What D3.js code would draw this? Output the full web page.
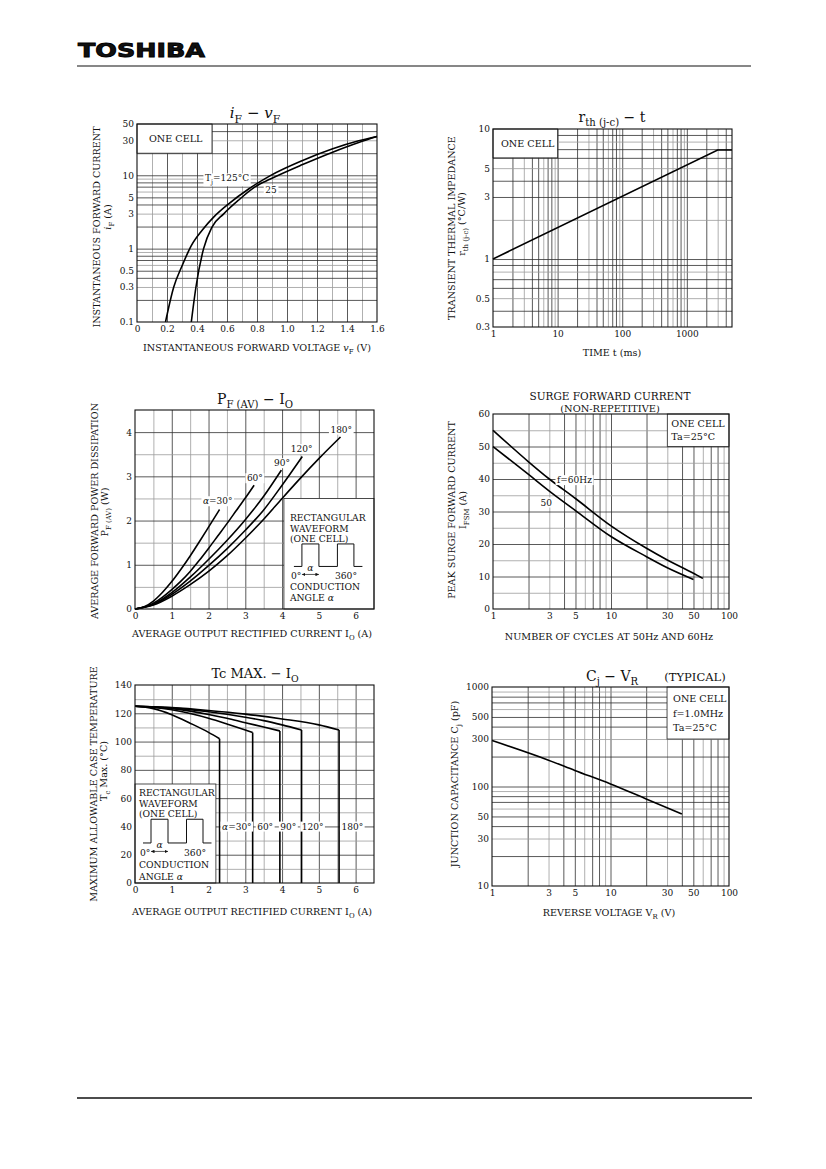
<!DOCTYPE html>
<html>
<head>
<meta charset="utf-8">
<script src="https://cdn.jsdelivr.net/npm/d3@7"></script>
<style>
body { margin: 0; background: #fff; }
text { font-family: "DejaVu Serif", serif; fill: #111; }
.ax text { font-size: 9px; }
</style>
</head>
<body>
<svg id="page"></svg>
<script>
// iF - vF
const vfTicks = [0, 0.2, 0.4, 0.6, 0.8, 1.0, 1.2, 1.4, 1.6];
const ifTicks = [0.1, 0.3, 0.5, 1, 3, 5, 10, 30, 50];
const vf125 = [0.19, 0.245, 0.30, 0.362, 0.433, 0.511, 0.611, 0.744, 0.889, 1.1, 1.3, 1.478, 1.6];
const if125 = [0.1, 0.3, 0.58, 1.1, 1.77, 2.69, 4.08, 6.5, 9.9, 15.8, 22.8, 29.5, 33.8];
const vf25 = [0.362, 0.393, 0.444, 0.5, 0.578, 0.678, 0.789, 0.889, 1.1, 1.3, 1.478, 1.6];
const if25 = [0.1, 0.3, 1.0, 1.97, 2.98, 4.6, 7.0, 8.9, 13.9, 20.5, 28, 33.8];

// rth(j-c) - t
const tTicks = [1, 10, 100, 1000];
const rthTicks = [0.3, 0.5, 1, 3, 5, 10];
const tMs = [1, 3000, 5000];
const rthVals = [1.0, 6.9, 6.9];

// PF(AV) - IO
const ioTicks = [0, 1, 2, 3, 4, 5, 6];
const pfTicks = [0, 1, 2, 3, 4];
const io30 = [0, 0.25, 0.5, 0.75, 1.0, 1.25, 1.5, 1.75, 2.0, 2.3];
const pf30 = [0, 0.05, 0.18, 0.38, 0.62, 0.9, 1.2, 1.52, 1.85, 2.25];
const io60 = [0, 0.25, 0.5, 0.75, 1.0, 1.25, 1.5, 1.75, 2.0, 2.25, 2.5, 2.75, 3.0, 3.24];
const pf60 = [0, 0.04, 0.13, 0.27, 0.44, 0.63, 0.85, 1.1, 1.37, 1.65, 1.93, 2.22, 2.51, 2.8];
const io90 = [0, 0.5, 1.0, 1.5, 2.0, 2.5, 3.0, 3.5, 3.98];
const pf90 = [0, 0.11, 0.37, 0.72, 1.12, 1.55, 2.02, 2.55, 3.14];
const io120 = [0, 0.5, 1.0, 1.5, 2.0, 2.5, 3.0, 3.5, 4.0, 4.55];
const pf120 = [0, 0.1, 0.33, 0.63, 0.98, 1.36, 1.78, 2.24, 2.8, 3.45];
const io180 = [0, 0.5, 1.0, 1.5, 2.0, 2.5, 3.0, 3.5, 4.0, 4.5, 5.0, 5.59];
const pf180 = [0, 0.09, 0.29, 0.55, 0.85, 1.2, 1.6, 2.03, 2.5, 2.96, 3.4, 3.89];

// surge forward current
const cycTicks = [1, 3, 5, 10, 30, 50, 100];
const ifsmTicks = [0, 10, 20, 30, 40, 50, 60];
const cyc60 = [1, 2, 3, 5, 10, 20, 30, 50, 60];
const ifsm60 = [55, 45.3, 40, 34, 25.6, 18.7, 15.1, 11, 9.4];
const cyc50 = [1, 2, 3, 5, 10, 20, 30, 50];
const ifsm50 = [50, 41.4, 36.3, 30.3, 22.3, 16.1, 12.7, 9.1];

// Tc max - IO
const tcTicks = [0, 20, 40, 60, 80, 100, 120, 140];
const tcIo30 = [0, 0.5, 1.0, 1.5, 2.0, 2.3];
const tc30 = [125, 123.3, 119, 113, 106.5, 102];
const tcIo60 = [0, 0.5, 1.0, 1.5, 2.0, 2.5, 3.0, 3.2];
const tc60 = [125, 124.2, 122.5, 119.8, 116.5, 112.5, 108.2, 106.4];
const tcIo90 = [0, 0.5, 1.0, 1.5, 2.0, 2.5, 3.0, 3.5, 3.94];
const tc90 = [125, 124.5, 123.3, 121.5, 119.2, 116.5, 113.3, 110.3, 107.5];
const tcIo120 = [0, 0.5, 1.0, 1.5, 2.0, 2.5, 3.0, 3.5, 4.0, 4.53];
const tc120 = [125, 124.6, 123.8, 122.6, 121.1, 119.3, 117.2, 114.8, 111.8, 108.2];
const tcIo180 = [0, 1, 2, 3, 4, 5, 5.55];
const tc180 = [125, 124, 122, 119.4, 116, 111.8, 108.2];

// Cj - VR
const vrTicks = [1, 3, 5, 10, 30, 50, 100];
const cjTicks = [10, 30, 50, 100, 300, 500, 1000];
const vrV = [1, 3, 5, 10, 20, 40];
const cjPf = [290, 184, 145, 106, 75, 53];

const svg = d3.select("#page").attr("width", 826).attr("height", 1169);

const DARK = "#303030", GRAY = "#9c9c9c";
const logColor = (d, i) => i % 3 === 1 ? GRAY : DARK;
const linColor = (d, i) => i % 2 === 0 ? GRAY : DARK;

function logGrid(lo, hi) {
    const out = [];
    for (let e = -2; e < 5; e++)
        for (let m = 1; m < 10; m++) {
            const v = +(m * Math.pow(10, e)).toPrecision(3);
            if (v > lo && v < hi) out.push(v);
        }
    return out;
}

function rich(t, parts, fs) {
    if (typeof parts === "string") parts = [[parts, "n"]];
    let shift = 0;
    parts.forEach(([s, k]) => {
        const ts = t.append("tspan").text(s);
        const want = k.includes("s") ? fs * 0.32 : 0;
        if (want !== shift) { ts.attr("dy", want - shift); shift = want; }
        if (k.includes("s")) ts.attr("font-size", fs * 0.72);
        if (k.includes("i")) ts.attr("font-style", "italic");
    });
    return t;
}

function label(x, y, parts, fs, anchor = "middle", rot = false, parent = svg) {
    const t = parent.append("text").attr("x", x).attr("y", y)
        .attr("font-size", fs).attr("text-anchor", anchor);
    if (rot) t.attr("transform", `rotate(-90,${x},${y})`);
    return rich(t, parts, fs);
}

function panel(c) {
    const x = c.x.range([0, c.w]);
    const y = c.y.range([c.h, 0]);
    const g = svg.append("g").attr("transform", `translate(${c.left},${c.top})`);

    const gx = g.append("g").attr("transform", `translate(0,${c.h})`)
        .call(d3.axisBottom(x).tickValues(c.xGrid).tickSize(-c.h).tickFormat(""));
    const gy = g.append("g")
        .call(d3.axisLeft(y).tickValues(c.yGrid).tickSize(-c.w).tickFormat(""));
    [[gx, c.xColor], [gy, c.yColor]].forEach(([a, col]) => {
        a.select(".domain").remove();
        a.selectAll("line").attr("stroke", col).attr("stroke-width", 0.8);
    });

    g.append("g").attr("class", "ax").attr("transform", `translate(0,${c.h})`)
        .call(d3.axisBottom(x).tickValues(c.xTicks).tickSize(0).tickPadding(4).tickFormat(c.xFmt || (d => d)))
        .call(a => a.select(".domain").remove());
    g.append("g").attr("class", "ax")
        .call(d3.axisLeft(y).tickValues(c.yTicks).tickSize(0).tickPadding(3).tickFormat(c.yFmt || (d => d)))
        .call(a => a.select(".domain").remove());

    const boxes = g.append("g");
    const marks = g.append("g");
    const tags = g.append("g");
    g.append("rect").attr("width", c.w).attr("height", c.h)
        .attr("fill", "none").attr("stroke", "#111").attr("stroke-width", 1.1);
    return { g, boxes, marks, tags, x, y, w: c.w, h: c.h };
}

function curve(p, xs, ys) {
    const line = d3.line().x(d => p.x(d[0])).y(d => p.y(d[1])).curve(d3.curveMonotoneX);
    p.marks.append("path").datum(d3.zip(xs, ys)).attr("d", line)
        .attr("fill", "none").attr("stroke", "#000").attr("stroke-width", 1.6);
}

function box(p, x0, x1, y0, y1) {
    const bx = p.x(x0), by = p.y(y1);
    p.boxes.append("rect").attr("x", bx).attr("y", by)
        .attr("width", p.x(x1) - bx).attr("height", p.y(y0) - by)
        .attr("fill", "#fff").attr("stroke", "#222").attr("stroke-width", 0.8);
    return { x: bx, y: by };
}

function tag(p, xv, yv, parts, fs = 9) {
    const gg = p.tags.append("g");
    const r = gg.append("rect").attr("fill", "#fff");
    const t = gg.append("text").attr("x", p.x(xv)).attr("y", p.y(yv))
        .attr("dy", "0.35em").attr("text-anchor", "middle").attr("font-size", fs);
    rich(t, parts, fs);
    const b = t.node().getBBox();
    r.attr("x", b.x - 1.5).attr("y", b.y).attr("width", b.width + 3).attr("height", b.height);
}

// arrow heads for the waveform sketches
svg.append("defs").append("marker").attr("id", "arr")
    .attr("viewBox", "0 0 6 6").attr("refX", 6).attr("refY", 3)
    .attr("markerWidth", 5).attr("markerHeight", 5).attr("orient", "auto-start-reverse")
    .append("path").attr("d", "M0,0L6,3L0,6Z").attr("fill", "#111");

function waveInset(p, x0, y0, k) {
    const o = [0, 10.5, 20.5, 22.5, 45, 49.5, 53, 57.5, 69, 80].map(v => v * k);
    const fs = 9.2;
    label(x0, y0 + o[0], "RECTANGULAR", fs, "start", false, p.tags);
    label(x0, y0 + o[1], "WAVEFORM", fs, "start", false, p.tags);
    label(x0, y0 + o[2], "(ONE CELL)", fs, "start", false, p.tags);
    const hi = y0 + o[3], lo = y0 + o[4];
    const pts = [[4, lo], [12, lo], [12, hi], [29, hi], [29, lo], [47.5, lo], [47.5, hi], [64, hi], [64, lo], [72.5, lo]]
        .map(([dx, yy]) => [x0 + dx, yy]);
    p.tags.append("path").attr("d", d3.line()(pts)).attr("fill", "none")
        .attr("stroke", "#111").attr("stroke-width", 1);
    p.tags.append("line").attr("x1", x0 + 12).attr("x2", x0 + 29)
        .attr("y1", y0 + o[6]).attr("y2", y0 + o[6])
        .attr("stroke", "#111").attr("stroke-width", 0.7)
        .attr("marker-start", "url(#arr)").attr("marker-end", "url(#arr)");
    label(x0 + 20.5, y0 + o[5], [["α", "i"]], fs, "middle", false, p.tags);
    label(x0 + 1, y0 + o[7], "0°", fs, "start", false, p.tags);
    label(x0 + 45, y0 + o[7], "360°", fs, "start", false, p.tags);
    label(x0, y0 + o[8], "CONDUCTION", fs, "start", false, p.tags);
    label(x0, y0 + o[9], [["ANGLE  ", "n"], ["α", "i"]], fs, "start", false, p.tags);
}

// header and footer
svg.append("text").attr("x", 78).attr("y", 57)
    .style("font-family", "'DejaVu Sans', sans-serif").style("font-weight", "bold")
    .attr("font-size", 19.5).attr("textLength", 127).attr("lengthAdjust", "spacingAndGlyphs")
    .attr("stroke", "#000").attr("stroke-width", 0.9).text("TOSHIBA");
svg.append("line").attr("x1", 77).attr("x2", 751).attr("y1", 66).attr("y2", 66)
    .attr("stroke", "#111").attr("stroke-width", 1.2);
svg.append("line").attr("x1", 77).attr("x2", 752).attr("y1", 1098).attr("y2", 1098)
    .attr("stroke", "#111").attr("stroke-width", 1.6);

const AX = 9.6;

// 1. iF - vF
const p1 = panel({
    left: 137, top: 124, w: 240, h: 198,
    x: d3.scaleLinear().domain([0, 1.6]), y: d3.scaleLog().domain([0.1, 50]),
    xGrid: d3.range(1, 16).map(i => i / 10), yGrid: logGrid(0.1, 50),
    xColor: linColor, yColor: logColor,
    xTicks: vfTicks, yTicks: ifTicks,
    xFmt: d => d === 0 ? "0" : d.toFixed(1)
});
const b1 = box(p1, 0, 0.5, 20, 50);
label(b1.x + 12, b1.y + 18, "ONE CELL", AX, "start", false, p1.tags);
curve(p1, vf125, if125);
curve(p1, vf25, if25);
tag(p1, 0.6, 9.1, [["T", "n"], ["j", "s"], ["=125°C", "n"]]);
tag(p1, 0.893, 6.3, "25");
label(255, 118, [["i", "i"], ["F", "s"], ["  −  ", "n"], ["v", "i"], ["F", "s"]], 15);
label(100, 227, "INSTANTANEOUS FORWARD CURRENT", AX, "middle", true);
label(111, 217, [["i", "i"], ["F", "s"], ["   (A)", "n"]], AX, "middle", true);
label(257, 351, [["INSTANTANEOUS FORWARD VOLTAGE   ", "n"], ["v", "i"], ["F", "s"], ["   (V)", "n"]], AX);

// 2. rth(j-c) - t
const p2 = panel({
    left: 493, top: 129, w: 239, h: 198,
    x: d3.scaleLog().domain([1, 5000]), y: d3.scaleLog().domain([0.3, 10]),
    xGrid: logGrid(1, 5000), yGrid: logGrid(0.3, 10),
    xColor: logColor, yColor: logColor,
    xTicks: tTicks, yTicks: rthTicks
});
const b2 = box(p2, 1, 10, 6, 10);
label(b2.x + 8, b2.y + 18, "ONE CELL", AX, "start", false, p2.tags);
p2.marks.append("path").datum(d3.zip(tMs, rthVals))
    .attr("d", d3.line().x(d => p2.x(d[0])).y(d => p2.y(d[1])))
    .attr("fill", "none").attr("stroke", "#000").attr("stroke-width", 1.6);
label(612, 122, [["r", "n"], ["th (j-c)", "s"], ["  −  t", "n"]], 14);
label(455, 228, "TRANSIENT THERMAL IMPEDANCE", AX, "middle", true);
label(465, 224, [["r", "n"], ["th (j-c)", "s"], ["   (°C/W)", "n"]], AX, "middle", true);
label(612, 356, "TIME    t    (ms)", AX);

// 3. PF(AV) - IO
const p3 = panel({
    left: 135, top: 410, w: 239, h: 199,
    x: d3.scaleLinear().domain([0, 6.5]), y: d3.scaleLinear().domain([0, 4.5]),
    xGrid: d3.range(1, 13).map(i => i / 2), yGrid: d3.range(1, 9).map(i => i / 2),
    xColor: linColor, yColor: linColor,
    xTicks: ioTicks, yTicks: pfTicks
});
const b3 = box(p3, 4.05, 6.5, 0, 2.5);
waveInset(p3, b3.x + 6, b3.y + 23, 1);
curve(p3, io30, pf30);
curve(p3, io60, pf60);
curve(p3, io90, pf90);
curve(p3, io120, pf120);
curve(p3, io180, pf180);
tag(p3, 2.25, 2.44, [["α", "i"], ["=30°", "n"]]);
tag(p3, 3.26, 2.96, "60°");
tag(p3, 4.0, 3.3, "90°");
tag(p3, 4.53, 3.62, "120°");
tag(p3, 5.61, 4.06, "180°");
label(255, 404, [["P", "n"], ["F (AV)", "s"], ["  −  I", "n"], ["O", "s"]], 14);
label(98, 511, "AVERAGE FORWARD POWER DISSIPATION", AX, "middle", true);
label(108, 512, [["P", "n"], ["F (AV)", "s"], ["   (W)", "n"]], AX, "middle", true);
label(252, 637, [["AVERAGE OUTPUT RECTIFIED CURRENT   I", "n"], ["O", "s"], ["   (A)", "n"]], AX);

// 4. surge forward current
const p4 = panel({
    left: 493, top: 414, w: 236, h: 195,
    x: d3.scaleLog().domain([1, 100]), y: d3.scaleLinear().domain([0, 60]),
    xGrid: logGrid(1, 100), yGrid: d3.range(1, 12).map(i => i * 5),
    xColor: logColor, yColor: linColor,
    xTicks: cycTicks, yTicks: ifsmTicks
});
const b4 = box(p4, 30, 100, 50, 60);
label(b4.x + 4, b4.y + 13, "ONE CELL", AX, "start", false, p4.tags);
label(b4.x + 4, b4.y + 26, "Ta=25°C", AX, "start", false, p4.tags);
curve(p4, cyc60, ifsm60);
curve(p4, cyc50, ifsm50);
tag(p4, 4.9, 39.7, "f=60Hz");
tag(p4, 2.83, 32.8, "50");
label(610, 399.5, "SURGE FORWARD CURRENT", 10.5);
label(610, 411.5, "(NON-REPETITIVE)", 9.8);
label(455, 510, "PEAK SURGE FORWARD CURRENT", AX, "middle", true);
label(466, 510, [["I", "n"], ["FSM", "s"], ["   (A)", "n"]], AX, "middle", true);
label(609, 640, "NUMBER OF CYCLES AT 50Hz AND 60Hz", AX);

// 5. Tc max - IO
const p5 = panel({
    left: 135, top: 685, w: 239, h: 198,
    x: d3.scaleLinear().domain([0, 6.5]), y: d3.scaleLinear().domain([0, 140]),
    xGrid: d3.range(1, 13).map(i => i / 2), yGrid: d3.range(1, 14).map(i => i * 10),
    xColor: linColor, yColor: linColor,
    xTicks: ioTicks, yTicks: tcTicks
});
const b5 = box(p5, 0, 2.2, 0, 70);
waveInset(p5, b5.x + 4, b5.y + 11.5, 1.055);
[[tcIo30, tc30], [tcIo60, tc60], [tcIo90, tc90], [tcIo120, tc120], [tcIo180, tc180]].forEach(([xs, ys]) => {
    curve(p5, xs, ys);
    const xe = xs[xs.length - 1];
    p5.marks.append("line").attr("x1", p5.x(xe)).attr("x2", p5.x(xe))
        .attr("y1", p5.y(ys[ys.length - 1])).attr("y2", p5.y(0))
        .attr("stroke", "#000").attr("stroke-width", 1.6);
});
tag(p5, 2.77, 40, [["α", "i"], ["=30°", "n"]]);
tag(p5, 3.54, 40, "60°");
tag(p5, 4.17, 40, "90°");
tag(p5, 4.83, 40, "120°");
tag(p5, 5.91, 40, "180°");
label(255, 678, [["Tc MAX.  −  I", "n"], ["O", "s"]], 13);
label(96.5, 784, "MAXIMUM ALLOWABLE CASE TEMPERATURE", AX, "middle", true);
label(106.5, 771, [["T", "n"], ["c", "s"], ["   Max.   (°C)", "n"]], AX, "middle", true);
label(252, 915, [["AVERAGE OUTPUT RECTIFIED CURRENT   I", "n"], ["O", "s"], ["   (A)", "n"]], AX);

// 6. Cj - VR
const p6 = panel({
    left: 492, top: 687, w: 237, h: 199,
    x: d3.scaleLog().domain([1, 100]), y: d3.scaleLog().domain([10, 1000]),
    xGrid: logGrid(1, 100), yGrid: logGrid(10, 1000),
    xColor: logColor, yColor: logColor,
    xTicks: vrTicks, yTicks: cjTicks
});
const b6 = box(p6, 30, 100, 300, 1000);
label(b6.x + 6, b6.y + 15, "ONE CELL", AX, "start", false, p6.tags);
label(b6.x + 6, b6.y + 30, "f=1.0MHz", AX, "start", false, p6.tags);
label(b6.x + 6, b6.y + 44, "Ta=25°C", AX, "start", false, p6.tags);
curve(p6, vrV, cjPf);
label(612, 681, [["C", "n"], ["j", "s"], ["  −  V", "n"], ["R", "s"]], 14);
label(695, 681, "(TYPICAL)", 11.5);
label(458, 784, [["JUNCTION CAPACITANCE   C", "n"], ["j", "s"], ["   (pF)", "n"]], AX, "middle", true);
label(609, 916, [["REVERSE VOLTAGE   V", "n"], ["R", "s"], ["   (V)", "n"]], AX);
</script>
</body>
</html>
